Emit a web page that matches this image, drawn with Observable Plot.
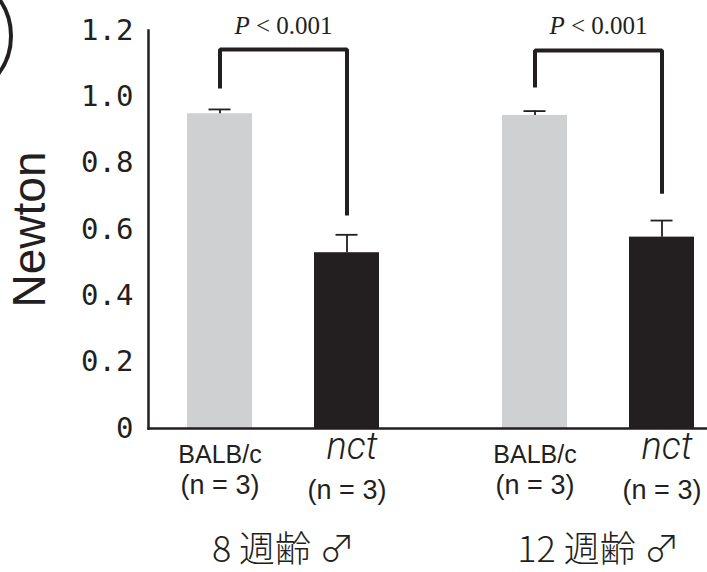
<!DOCTYPE html>
<html>
<head>
<meta charset="utf-8">
<script src="https://cdn.jsdelivr.net/npm/d3@7"></script>
<script src="https://cdn.jsdelivr.net/npm/@observablehq/plot@0.6"></script>
<style>
  html, body { margin: 0; padding: 0; background: #fff; }
  #wrap { position: relative; width: 707px; height: 572px; overflow: hidden; }
  #wrap svg { position: absolute; left: 0; top: 0; }
  #ring { position: absolute; box-sizing: border-box; left: -117px; top: -29px; width: 130px; height: 130px;
          border: 4px solid #231f20; border-radius: 50%; }
</style>
</head>
<body>
<div id="wrap"><div id="ring"></div></div>
<script>
// ---- data ----
const groups = ["8 週齢 ♂", "12 週齢 ♂"];
const strains = ["BALB/c", "nct"];
const barGroups = ["8 週齢 ♂", "8 週齢 ♂", "12 週齢 ♂", "12 週齢 ♂"];
const barStrains = ["BALB/c", "nct", "BALB/c", "nct"];
const means = [0.949, 0.530, 0.944, 0.577];
const errors = [0.013, 0.054, 0.013, 0.050];
const nLabels = ["(n = 3)", "(n = 3)", "(n = 3)", "(n = 3)"];
const pLabels = ["P < 0.001", "P < 0.001"];
const bracketLeftEnds = [1.025, 1.028];
const bracketTops = [1.143, 1.140];
const bracketRightEnds = [0.642, 0.708];
const yTicks = [0, 0.2, 0.4, 0.6, 0.8, 1.0, 1.2];
const yTickLabels = ["0", "0.2", "0.4", "0.6", "0.8", "1.0", "1.2"];
const yLabel = "Newton";

// ---- tables built from the arrays ----
const rows = means.map((v, i) => ({group: barGroups[i], strain: barStrains[i], value: v, err: errors[i], n: nLabels[i]}));
const bracketRows = groups.flatMap((g, i) => [
  {group: g, strain: strains[0], y: bracketLeftEnds[i]},
  {group: g, strain: strains[0], y: bracketTops[i]},
  {group: g, strain: strains[1], y: bracketTops[i]},
  {group: g, strain: strains[1], y: bracketRightEnds[i]}
]);
const pRows = groups.map((g, i) => ({group: g, label: pLabels[i]}));
const groupRows = groups.map(g => ({group: g}));
const tickLabel = new Map(yTicks.map((t, i) => [t, yTickLabels[i]]));

const ink = "#231f20";

const chart = Plot.plot({
  width: 707,
  height: 572,
  marginLeft: 148,
  marginRight: 0,
  marginTop: 30,
  marginBottom: 144,
  style: {background: "transparent", overflow: "visible"},
  fx: {domain: groups, range: [148, 733.5], paddingInner: 0.1413, paddingOuter: 0, axis: null},
  x: {domain: strains, paddingInner: 0.49, paddingOuter: 0.306, axis: null},
  y: {domain: [0, 1.2], axis: null},
  color: {domain: strains, range: ["#cfd0d2", ink]},
  marks: [
    Plot.barY(rows, {fx: "group", x: "strain", y: "value", fill: "strain"}),
    Plot.ruleX(rows, {fx: "group", x: "strain", y1: "value", y2: d => d.value + d.err, stroke: ink, strokeWidth: 1.8}),
    Plot.tickY(rows, {fx: "group", x: "strain", y: d => d.value + d.err, stroke: ink, strokeWidth: 1.8, insetLeft: 21.5, insetRight: 21.5}),
    Plot.line(bracketRows, {fx: "group", x: "strain", y: "y", z: "group", stroke: ink, strokeWidth: 4, strokeLinejoin: "miter", strokeLinecap: "butt"}),
    Plot.text(pRows, {fx: "group", text: "label", frameAnchor: "top", lineAnchor: "middle", dy: -5, fontSize: 25, fontFamily: "Liberation Serif", fill: ink}),
    Plot.frame({anchor: "left", facet: "super", stroke: ink, strokeWidth: 2.5}),
    Plot.frame({anchor: "bottom", facet: "super", stroke: ink, strokeWidth: 2.5}),
    Plot.axisY(yTicks, {anchor: "left", label: null, tickSize: 0, tickPadding: 15, tickFormat: d => tickLabel.get(d),
      fontSize: 29, fontFamily: "DejaVu Sans Mono", fill: ink}),
    Plot.text([yLabel], {facet: "super", frameAnchor: "left", textAnchor: "middle", rotate: -90, dx: -118, fontSize: 46, fontFamily: "Liberation Sans", fill: ink}),
    Plot.text(rows.filter(d => d.strain === strains[0]), {fx: "group", x: "strain", text: "strain", frameAnchor: "bottom", dy: 34,
      fontSize: 25, fontFamily: "Liberation Sans", fill: ink, letterSpacing: 2.2}),
    Plot.text(rows.filter(d => d.strain === strains[1]), {fx: "group", x: "strain", text: "strain", frameAnchor: "bottom", dy: 30, dx: 5,
      fontSize: 38, fontStyle: "italic", fontWeight: 300, fontFamily: "Roboto, Liberation Sans", fill: ink}),
    Plot.text(rows.filter(d => d.strain === strains[0]), {fx: "group", x: "strain", text: "n", frameAnchor: "bottom", dy: 65,
      fontSize: 27, fontFamily: "Liberation Sans", fill: ink, letterSpacing: 1.5}),
    Plot.text(rows.filter(d => d.strain === strains[1]), {fx: "group", x: "strain", text: "n", frameAnchor: "bottom", dy: 70,
      fontSize: 27, fontFamily: "Liberation Sans", fill: ink, letterSpacing: 1.5}),
    Plot.text(groupRows, {fx: "group", text: "group", frameAnchor: "bottom", dy: 133,
      fontSize: 36, fontWeight: 300, fontFamily: "Noto Sans CJK JP", fill: ink, letterSpacing: 1})
  ]
});

// italic P in the significance labels
const NS = "http://www.w3.org/2000/svg";
chart.querySelectorAll("text").forEach(t => {
  const s = t.textContent;
  if (pLabels.includes(s)) {
    t.textContent = "";
    const a = document.createElementNS(NS, "tspan");
    a.setAttribute("font-style", "italic");
    a.textContent = s.slice(0, 1);
    const b = document.createElementNS(NS, "tspan");
    b.textContent = s.slice(1);
    t.appendChild(a);
    t.appendChild(b);
  }
});

document.getElementById("wrap").appendChild(chart);
</script>
</body>
</html>
